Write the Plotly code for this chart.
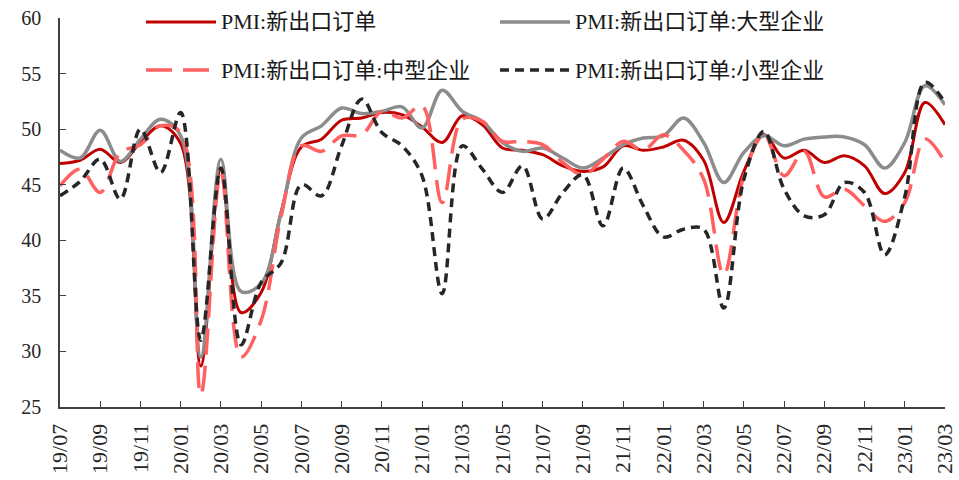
import plotly.graph_objects as go

# Monthly labels, 2019-07 .. 2023-03
months = [
    "19/07", "19/08", "19/09", "19/10", "19/11", "19/12",
    "20/01", "20/02", "20/03", "20/04", "20/05", "20/06",
    "20/07", "20/08", "20/09", "20/10", "20/11", "20/12",
    "21/01", "21/02", "21/03", "21/04", "21/05", "21/06",
    "21/07", "21/08", "21/09", "21/10", "21/11", "21/12",
    "22/01", "22/02", "22/03", "22/04", "22/05", "22/06",
    "22/07", "22/08", "22/09", "22/10", "22/11", "22/12",
    "23/01", "23/02", "23/03",
]

# PMI new export orders: overall
pmi_all = [
    46.9, 47.2, 48.2, 47.0, 48.8, 50.3,
    48.7, 28.7, 46.4, 33.5, 35.3, 42.6,
    48.4, 49.1, 50.8, 51.0, 51.5, 51.3,
    50.2, 48.8, 51.2, 50.4, 48.3, 48.1,
    47.7, 46.7, 46.2, 46.6, 48.5, 48.1,
    48.4, 49.0, 47.2, 41.6, 46.2, 49.5,
    47.4, 48.1, 47.0, 47.6, 46.7, 44.2,
    46.1, 52.4, 50.4,
]

# Large enterprises
pmi_large = [
    48.1, 47.4, 49.9, 47.1, 49.1, 50.9,
    49.4, 29.5, 47.3, 35.4, 36.1, 42.5,
    49.2, 50.3, 51.9, 51.4, 51.6, 52.0,
    50.1, 53.5, 51.6, 50.7, 48.8, 48.0,
    48.3, 47.4, 46.5, 47.4, 48.6, 49.2,
    49.4, 51.0, 48.8, 45.2, 47.9, 49.4,
    48.5, 49.1, 49.3, 49.3, 48.6, 46.5,
    48.8, 53.9, 52.2,
]

# Medium enterprises
pmi_medium = [
    44.9, 46.4, 44.3, 47.9, 48.6, 50.3,
    49.7, 26.1, 46.1, 29.5, 32.8, 42.2,
    48.5, 48.0, 49.4, 49.5, 51.6, 51.0,
    52.1, 43.4, 50.9, 50.7, 48.9, 48.9,
    48.6, 47.0, 45.9, 47.3, 48.9, 48.1,
    49.5, 48.1, 45.5, 36.9, 45.8, 49.5,
    45.8, 48.0, 43.9, 44.6, 43.1, 41.7,
    43.4, 49.1, 47.0,
]

# Small enterprises
pmi_small = [
    44.0, 45.3, 47.3, 43.7, 50.0, 46.1,
    51.5, 31.0, 46.5, 30.6, 36.2, 38.0,
    45.0, 44.0, 48.5, 52.7, 49.7, 48.5,
    45.8, 35.2, 48.5, 46.4, 44.3, 46.7,
    41.9, 44.3, 45.9, 41.3, 46.5, 43.1,
    40.3, 41.0, 41.0, 33.9, 45.5, 49.8,
    44.6, 42.2, 42.3, 45.2, 44.3, 38.7,
    43.9, 54.2, 52.4,
]

y_ticks = [25, 30, 35, 40, 45, 50, 55, 60]

series = [
    ("PMI:新出口订单", pmi_all, "#C00000", "solid", 3),
    ("PMI:新出口订单:大型企业", pmi_large, "#8C8C8C", "solid", 3.5),
    ("PMI:新出口订单:中型企业", pmi_medium, "#FF6161", "26px,11px", 3.5),
    ("PMI:新出口订单:小型企业", pmi_small, "#262626", "9px,6px", 3.5),
]

TEXT_FONT = "Liberation Serif, 'Times New Roman', 'Noto Sans CJK SC', serif"

x_idx = list(range(len(months)))
fig = go.Figure()
for name, vals, color, dash, width in series:
    fig.add_trace(go.Scatter(
        x=x_idx, y=vals, name=name, mode="lines",
        line=dict(color=color, width=width, dash=dash, shape="spline", smoothing=1.0),
        showlegend=False, hoverinfo="skip",
    ))

# Legend drawn as sample lines + labels inside the plot area (2 x 2 grid)
W, H = 959, 480
ML, MR, MT, MB = 60, 14, 18, 73
pw, ph = W - ML - MR, H - MT - MB


def px_x(px):
    return (px - ML) / pw


def px_y(py):
    return (H - MB - py) / ph


legend_pos = [(146, 22), (500, 22), (146, 70), (500, 70)]
shapes = []
annotations = []
for (name, vals, color, dash, width), (lx, ly) in zip(series, legend_pos):
    shapes.append(dict(
        type="line", xref="paper", yref="paper",
        x0=px_x(lx), x1=px_x(lx + 70), y0=px_y(ly), y1=px_y(ly),
        line=dict(color=color, width=width, dash=dash),
    ))
    annotations.append(dict(
        xref="paper", yref="paper", x=px_x(lx + 73), y=px_y(ly),
        xanchor="left", yanchor="middle", text=name, showarrow=False,
        font=dict(family=TEXT_FONT, size=22, color="#1a1a1a"),
    ))

fig.update_layout(
    width=W, height=H,
    margin=dict(l=ML, r=MR, t=MT, b=MB, pad=0),
    paper_bgcolor="white", plot_bgcolor="white",
    shapes=shapes, annotations=annotations,
    font=dict(family=TEXT_FONT, size=20, color="#262626"),
)
fig.update_xaxes(
    range=[-0.0001, len(months) - 1 + 0.0001],
    tickmode="array", tickvals=x_idx[::2], ticktext=months[::2],
    tickangle=-90, ticks="inside", ticklen=6, tickcolor="#404040", tickwidth=1.2,
    showline=True, linecolor="#404040", linewidth=2,
    showgrid=False, zeroline=False, automargin=False,
    ticklabeloverflow="allow", ticklabelstandoff=6,
    tickfont=dict(family=TEXT_FONT, size=22, color="#262626"),
)
fig.update_yaxes(
    range=[25, 60], tickmode="array", tickvals=y_ticks,
    ticks="inside", ticklen=6, tickcolor="#404040", tickwidth=1.2,
    showline=True, linecolor="#404040", linewidth=1.5,
    showgrid=False, zeroline=False, automargin=False,
    ticklabelstandoff=13,
    tickfont=dict(family=TEXT_FONT, size=20, color="#262626"),
)

fig.write_html("out.html")
